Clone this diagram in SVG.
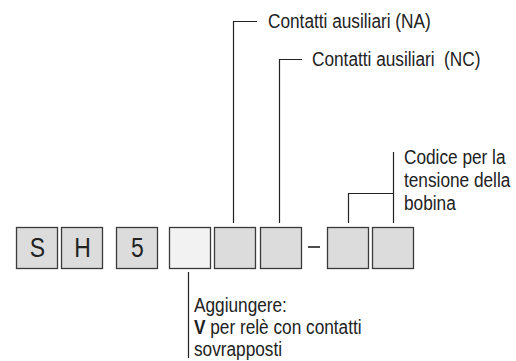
<svg xmlns="http://www.w3.org/2000/svg" width="516" height="361" viewBox="0 0 516 361">
<style>
.box{fill:#dcdcdc;stroke:#3a3a3a;stroke-width:1.3}
.lbox{fill:#f2f2f2;stroke:#3a3a3a;stroke-width:1.3}
.ln{fill:none;stroke:#222;stroke-width:1.2}
.t{font-family:"Liberation Sans",Arial,sans-serif;font-size:20px;fill:#222}
.bt{font-family:"Liberation Sans",Arial,sans-serif;font-size:27px;fill:#222;text-anchor:middle}
</style>
<rect width="516" height="361" fill="#fff"/>
<g id="boxS"><rect class="box" x="16.5" y="227.5" width="41" height="41"/><text class="bt" transform="translate(37.5,257) scale(0.85,1)">S</text></g>
<g id="boxH"><rect class="box" x="61.5" y="227.5" width="41" height="41"/><text class="bt" transform="translate(82.5,257) scale(0.85,1)">H</text></g>
<g id="box5"><rect class="box" x="116.5" y="227.5" width="41" height="41"/><text class="bt" transform="translate(137.5,257) scale(0.85,1)">5</text></g>
<g id="boxV"><rect class="lbox" x="169.5" y="227.5" width="41" height="41"/></g>
<g id="boxNA"><rect class="box" x="214.5" y="227.5" width="41" height="41"/></g>
<g id="boxNC"><rect class="box" x="260.5" y="227.5" width="41" height="41"/></g>
<g id="dash"><line x1="308" y1="247" x2="320" y2="247" stroke="#222" stroke-width="1.6"/></g>
<g id="boxT1"><rect class="box" x="327.5" y="227.5" width="41" height="41"/></g>
<g id="boxT2"><rect class="box" x="372.5" y="227.5" width="41" height="41"/></g>
<g id="connectors">
<polyline class="ln" points="233.5,223 233.5,21.5 257,21.5"/>
<polyline class="ln" points="279.5,223 279.5,59.5 302,59.5"/>
<polyline class="ln" points="348.5,223 348.5,193.5 393.5,193.5"/>
<line class="ln" x1="393.5" y1="152" x2="393.5" y2="223"/>
<line class="ln" x1="188.5" y1="272" x2="188.5" y2="358"/>
</g>
<g id="labels">
<text class="t" transform="translate(268,28) scale(0.862,1)">Contatti ausiliari (NA)</text>
<text class="t" transform="translate(312,66) scale(0.862,1)">Contatti ausiliari&#160; (NC)</text>
<text class="t" transform="translate(404,164) scale(0.862,1)">Codice per la</text>
<text class="t" transform="translate(404,187) scale(0.862,1)">tensione della</text>
<text class="t" transform="translate(404,210) scale(0.862,1)">bobina</text>
<text class="t" transform="translate(194,312) scale(0.862,1)">Aggiungere:</text>
<text class="t" transform="translate(194,334) scale(0.862,1)"><tspan font-weight="bold">V</tspan> per relè con contatti</text>
<text class="t" transform="translate(194,356) scale(0.862,1)">sovrapposti</text>
</g>
</svg>
